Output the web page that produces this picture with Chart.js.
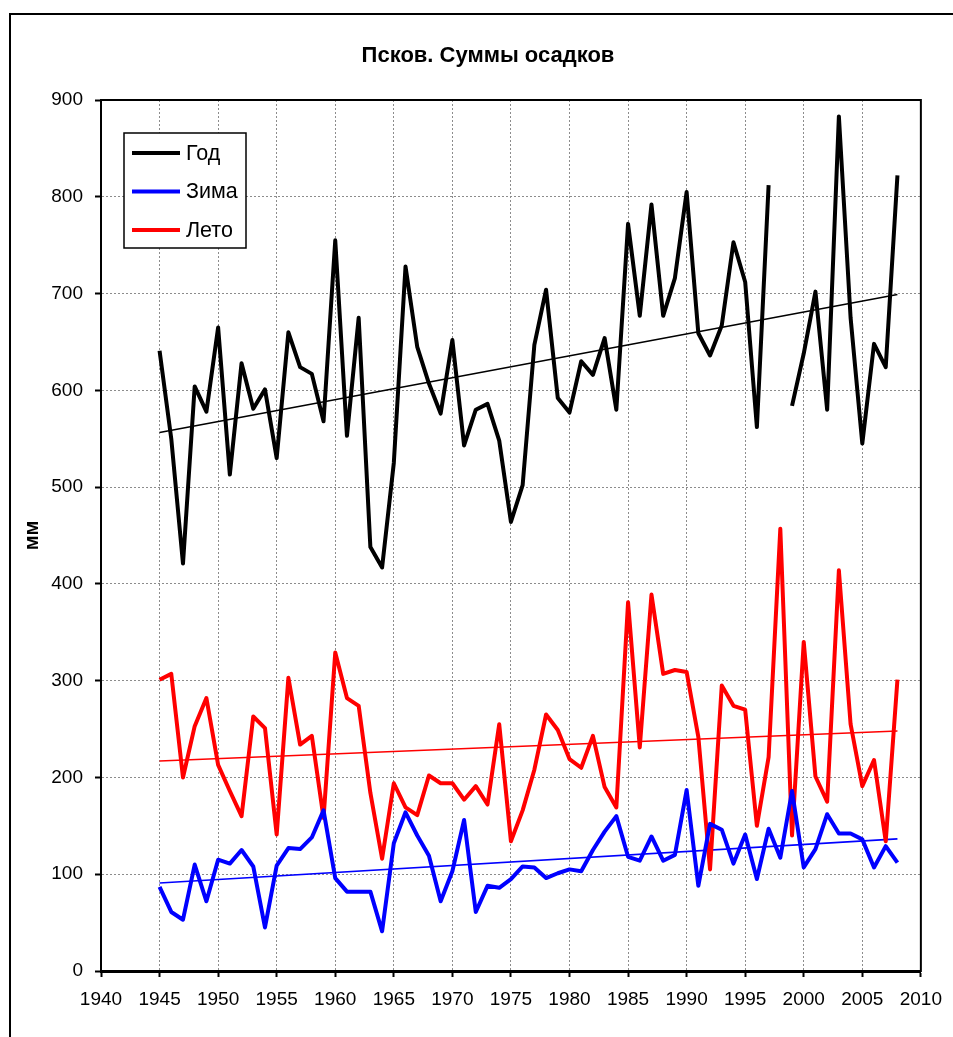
<!DOCTYPE html>
<html>
<head>
<meta charset="utf-8">
<script src="https://cdn.jsdelivr.net/npm/chart.js@4/dist/chart.umd.min.js"></script>
<style>
  html, body { margin: 0; padding: 0; background: #fff; }
  #wrap { width: 953px; height: 1037px; }
</style>
</head>
<body>
<div id="wrap"><canvas id="chart" width="953" height="1037"></canvas></div>
<script>
// years of observation
const years = [
  1945, 1946, 1947, 1948, 1949, 1950, 1951, 1952, 1953, 1954,
  1955, 1956, 1957, 1958, 1959, 1960, 1961, 1962, 1963, 1964,
  1965, 1966, 1967, 1968, 1969, 1970, 1971, 1972, 1973, 1974,
  1975, 1976, 1977, 1978, 1979, 1980, 1981, 1982, 1983, 1984,
  1985, 1986, 1987, 1988, 1989, 1990, 1991, 1992, 1993, 1994,
  1995, 1996, 1997, 1998, 1999, 2000, 2001, 2002, 2003, 2004,
  2005, 2006, 2007, 2008
];

// annual sums, mm (1998 missing)
const god = [
  641, 550, 421, 604, 578, 665, 513, 628, 581, 601,
  530, 660, 624, 617, 568, 755, 553, 675, 438, 417,
  525, 728, 645, 607, 576, 652, 543, 580, 586, 548,
  464, 502, 647, 704, 592, 577, 630, 616, 654, 580,
  772, 677, 792, 677, 716, 805, 659, 636, 667, 753,
  712, 562, 812, null, 584, 638, 702, 580, 883, 675,
  545, 648, 624, 822
];

// winter sums, mm
const zima = [
  87, 61, 53, 110, 72, 115, 111, 125, 108, 45,
  109, 127, 126, 138, 166, 96, 82, 82, 82, 41,
  132, 164, 140, 119, 72, 103, 156, 61, 88, 86,
  95, 108, 107, 96, 101, 105, 103, 125, 144, 160,
  118, 114, 139, 114, 120, 187, 88, 152, 146, 111,
  141, 95, 147, 117, 186, 107, 126, 162, 142, 142,
  136, 107, 129, 112
];

// summer sums, mm
const leto = [
  301, 307, 200, 253, 282, 213, 186, 160, 263, 251,
  141, 303, 234, 243, 158, 329, 282, 274, 184, 116,
  194, 169, 161, 202, 194, 194, 177, 191, 172, 255,
  134, 166, 208, 265, 249, 219, 210, 243, 190, 169,
  381, 231, 389, 307, 311, 309, 242, 105, 295, 274,
  270, 150, 221, 457, 140, 340, 201, 175, 414, 255,
  191, 218, 134, 301
];

// linear trends (start / end)
const trendYears = [1945, 2008];
const godTrend = [556.5, 699];
const zimaTrend = [91, 136.5];
const letoTrend = [217, 248];

const xTicks = [1940, 2010, 5];
const yTicks = [0, 900, 100];

function pts(xs, ys) {
  return xs.map((x, i) => ({ x: x, y: ys[i] }));
}

const FONT = "'Liberation Sans', Arial, sans-serif";

// 🖼 frame, title, plot border, legend
const decor = {
  id: 'decor',
  beforeDatasetsDraw(chart) {
    const { ctx, chartArea: a } = chart;
    ctx.save();
    ctx.strokeStyle = '#000';
    ctx.lineWidth = 2;
    ctx.strokeRect(a.left, a.top, a.right - a.left, a.bottom - a.top);
    ctx.restore();
  },
  afterDraw(chart) {
    const ctx = chart.ctx;
    ctx.save();
    // outer frame
    ctx.strokeStyle = '#000';
    ctx.lineWidth = 2;
    ctx.strokeRect(10, 14, 1000, 1100);

    // title
    ctx.fillStyle = '#000';
    ctx.font = 'bold 22px ' + FONT;
    ctx.textAlign = 'center';
    ctx.textBaseline = 'middle';
    ctx.fillText('Псков. Суммы осадков', 488, 56);

    // legend
    const items = chart.data.datasets.filter(d => !d.trend);
    ctx.fillStyle = '#fff';
    ctx.fillRect(124, 133, 122, 115);
    ctx.lineWidth = 1.5;
    ctx.strokeStyle = '#000';
    ctx.strokeRect(124, 133, 122, 115);
    ctx.font = '21.5px ' + FONT;
    ctx.textAlign = 'left';
    items.forEach((d, i) => {
      const y = 153 + i * 38.5;
      ctx.strokeStyle = d.borderColor;
      ctx.lineWidth = 4;
      ctx.beginPath();
      ctx.moveTo(132, y);
      ctx.lineTo(180, y);
      ctx.stroke();
      ctx.fillStyle = '#000';
      ctx.fillText(d.label, 186, y + 1);
    });
    ctx.restore();
  }
};

const lineStyle = { pointRadius: 0, tension: 0, spanGaps: false, borderJoinStyle: 'round', fill: false };

new Chart(document.getElementById('chart'), {
  type: 'line',
  data: {
    datasets: [
      { label: 'Год', data: pts(years, god), borderColor: '#000000', borderWidth: 4, ...lineStyle },
      { label: 'Зима', data: pts(years, zima), borderColor: '#0000ff', borderWidth: 4, ...lineStyle },
      { label: 'Лето', data: pts(years, leto), borderColor: '#ff0000', borderWidth: 4, ...lineStyle },
      { label: 'trend', trend: true, data: pts(trendYears, godTrend), borderColor: '#000000', borderWidth: 1.6, ...lineStyle },
      { label: 'trend', trend: true, data: pts(trendYears, zimaTrend), borderColor: '#0000ff', borderWidth: 1.6, ...lineStyle },
      { label: 'trend', trend: true, data: pts(trendYears, letoTrend), borderColor: '#ff0000', borderWidth: 1.6, ...lineStyle }
    ]
  },
  options: {
    responsive: false,
    animation: false,
    events: [],
    layout: { padding: { left: 9, right: 30, top: 100, bottom: 0 } },
    plugins: {
      legend: { display: false },
      title: { display: false },
      tooltip: { enabled: false }
    },
    scales: {
      x: {
        type: 'linear',
        min: xTicks[0],
        max: xTicks[1],
        afterFit(s) { s.height = 66; },
        ticks: {
          stepSize: xTicks[2],
          callback: v => String(v),
          color: '#000',
          font: { family: FONT, size: 19 },
          padding: 11,
          maxRotation: 0,
          autoSkip: false
        },
        grid: {
          color: '#8c8c8c',
          lineWidth: 1,
          tickLength: 6,
          tickColor: '#000',
          tickWidth: 2
        },
        border: { display: true, color: '#000', width: 3, dash: [2, 2] }
      },
      y: {
        min: yTicks[0],
        max: yTicks[1],
        afterFit(s) { s.width = 92; },
        title: {
          display: true,
          text: 'мм',
          color: '#000',
          font: { family: FONT, size: 20, weight: 'bold' },
          padding: { top: 11, bottom: 0 }
        },
        ticks: {
          stepSize: yTicks[2],
          color: '#000',
          font: { family: FONT, size: 19 },
          padding: 12
        },
        grid: {
          color: '#8c8c8c',
          lineWidth: 1,
          tickLength: 6,
          tickColor: '#000',
          tickWidth: 2
        },
        border: { display: true, color: '#000', width: 2, dash: [2, 2] }
      }
    }
  },
  plugins: [decor]
});
</script>
</body>
</html>
